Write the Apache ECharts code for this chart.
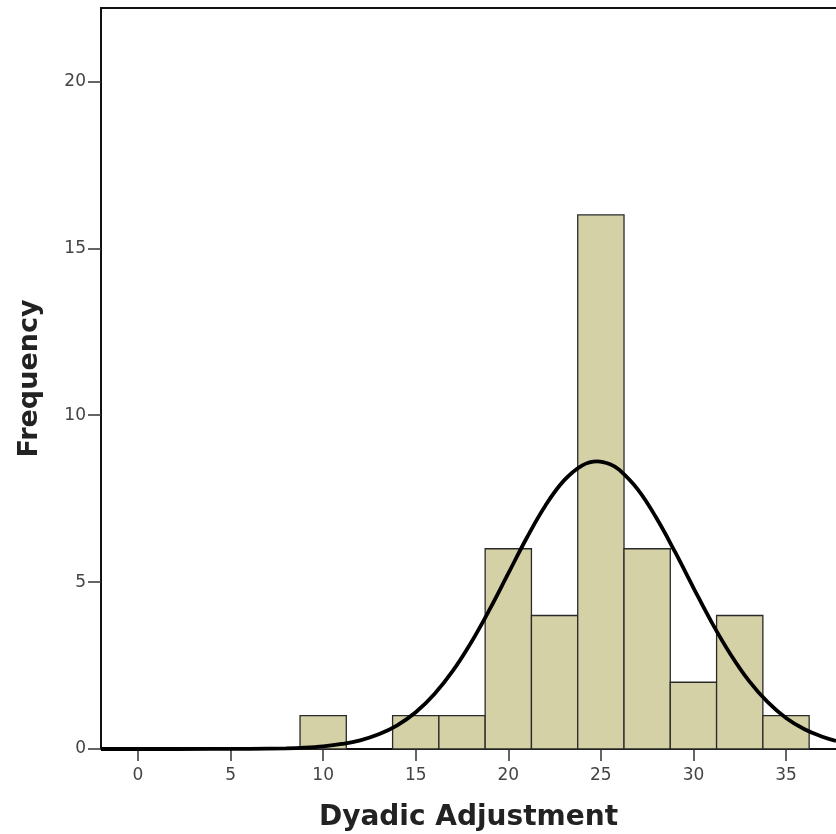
<!DOCTYPE html>
<html>
<head>
<meta charset="utf-8">
<script src="https://cdn.jsdelivr.net/npm/echarts@6/dist/echarts.min.js"></script>
<style>
  html, body { margin: 0; padding: 0; background: #fff; }
  #chart { width: 836px; height: 834px; }
</style>
</head>
<body>
<div id="chart"></div>
<script>
// Histogram bins (lower edge of each bin), bin width and counts
const binLower = [8.75, 11.25, 13.75, 16.25, 18.75, 21.25, 23.75, 26.25, 28.75, 31.25, 33.75];
const binWidth = 2.5;
const counts   = [1, 0, 1, 1, 6, 4, 16, 6, 2, 4, 1];

// Normal curve points
const curveX = [-2, 4, 6, 8, 9, 10, 11, 12, 13, 14, 15, 16, 17, 18, 19, 20, 21, 22, 23, 24, 24.8, 25.5, 26, 27, 28, 29, 30, 31, 32, 33, 34, 35, 36, 37, 37.7];
const curveY = [0, 0.001, 0.004, 0.02, 0.04, 0.08, 0.15, 0.26, 0.44, 0.71, 1.10, 1.64, 2.34, 3.20, 4.19, 5.26, 6.33, 7.29, 8.04, 8.50, 8.62, 8.53, 8.36, 7.77, 6.92, 5.91, 4.83, 3.78, 2.84, 2.04, 1.41, 0.93, 0.59, 0.36, 0.24];

// Tick labels
const xTicks = [0, 5, 10, 15, 20, 25, 30, 35];
const yTicks = [0, 5, 10, 15, 20];

const xTitle = 'Dyadic Adjustment';
const yTitle = 'Frequency';

const barData = binLower.map((lo, i) => [lo, lo + binWidth, counts[i]]);
const lineData = curveX.map((x, i) => [x, curveY[i]]);

const chart = echarts.init(document.getElementById('chart'), null, { renderer: 'canvas' });
const labelFont = { fontFamily: 'DejaVu Sans', fontSize: 17, color: '#444' };
const xTitleFont = { fontFamily: 'DejaVu Sans', fontSize: 28, fontWeight: 'bold', color: '#222' };
const yTitleFont = { fontFamily: 'DejaVu Sans', fontSize: 27, fontWeight: 'bold', color: '#222' };

chart.setOption({
  animation: false,
  backgroundColor: '#ffffff',
  grid: { left: 101, right: 0, top: 8, bottom: 85, containLabel: false, outerBoundsMode: 'none' },
  xAxis: [{
    type: 'value', min: -2, max: 37.7, position: 'bottom',
    name: xTitle, nameLocation: 'middle', nameGap: 55, nameTextStyle: xTitleFont,
    axisLine: { show: true, onZero: false, lineStyle: { color: '#111', width: 2 } },
    axisTick: { show: true, length: 12, customValues: xTicks, lineStyle: { color: '#333', width: 1.5 } },
    axisLabel: Object.assign({ margin: 18, customValues: xTicks }, labelFont),
    splitLine: { show: false }
  }, {
    type: 'value', min: -2, max: 37.7, position: 'top',
    axisLine: { show: true, onZero: false, lineStyle: { color: '#111', width: 2 } },
    axisTick: { show: false }, axisLabel: { show: false }, splitLine: { show: false }
  }],
  yAxis: {
    type: 'value', min: 0, max: 22.2, position: 'left',
    name: yTitle, nameLocation: 'middle', nameGap: 58, nameTextStyle: yTitleFont,
    axisLine: { show: true, onZero: false, lineStyle: { color: '#111', width: 2 } },
    axisTick: { show: true, length: 13, customValues: yTicks, lineStyle: { color: '#333', width: 1.5 } },
    axisLabel: Object.assign({ margin: 15, customValues: yTicks }, labelFont),
    splitLine: { show: false }
  },
  series: [{
    type: 'custom',
    xAxisIndex: 0,
    data: barData,
    renderItem: function (params, api) {
      const c = api.value(2);
      if (!c) return null;
      const p0 = api.coord([api.value(0), 0]);
      const p1 = api.coord([api.value(1), c]);
      return {
        type: 'rect',
        shape: { x: p0[0], y: p1[1], width: p1[0] - p0[0], height: p0[1] - p1[1] },
        style: { fill: '#d5d1a6', stroke: '#2a2a2a', lineWidth: 1.3 }
      };
    },
    z: 2
  }, {
    type: 'line',
    xAxisIndex: 0,
    data: lineData,
    smooth: 0.4,
    showSymbol: false,
    lineStyle: { color: '#000', width: 3.8 },
    z: 3
  }]
});
</script>
</body>
</html>
